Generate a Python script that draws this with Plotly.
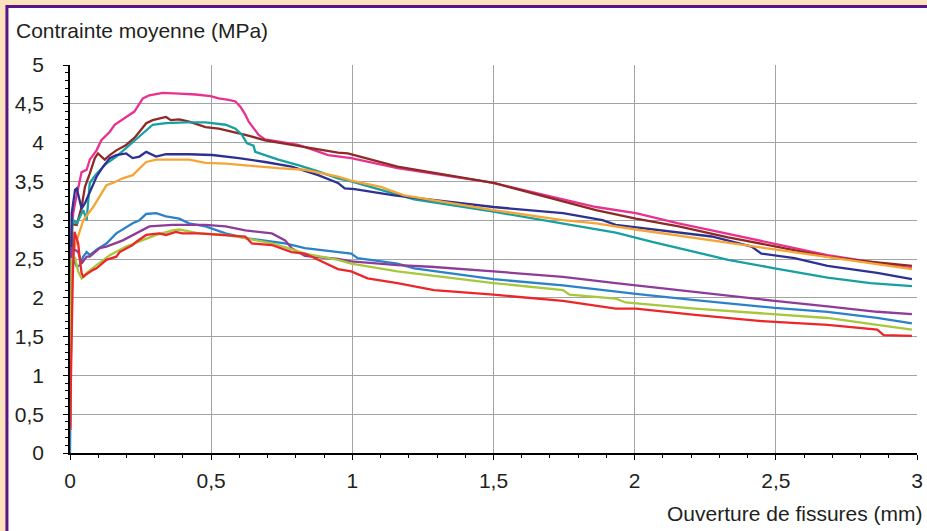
import plotly.graph_objects as go

# ---------------- data ----------------
pink_x = [0, 0.003, 0.006, 0.012, 0.018, 0.041, 0.059, 0.070, 0.094, 0.111, 0.141, 0.158, 0.176, 0.199, 0.228,
          0.246, 0.258, 0.281, 0.328, 0.387, 0.445, 0.498, 0.527, 0.562, 0.586, 0.604, 0.621, 0.633, 0.650, 0.668,
          0.691, 0.738, 0.808, 0.867, 0.914, 0.996, 1.160, 1.500, 1.863, 2.004, 2.155, 2.273, 2.496, 2.683, 2.823, 2.982]
pink_y = [0.3, 1.8, 2.9, 3.1, 3.22, 3.62, 3.65, 3.78, 3.90, 4.03, 4.14, 4.23, 4.27, 4.33, 4.40,
          4.51, 4.57, 4.61, 4.64, 4.63, 4.62, 4.60, 4.57, 4.55, 4.53, 4.46, 4.36, 4.27, 4.18, 4.10,
          4.04, 4.01, 3.97, 3.90, 3.84, 3.80, 3.67, 3.48, 3.17, 3.09, 2.96, 2.87, 2.70, 2.55, 2.47, 2.38]

brown_x = [0, 0.004, 0.008, 0.024, 0.041, 0.053, 0.070, 0.088, 0.099, 0.111, 0.123, 0.141, 0.164, 0.199, 0.228,
           0.246, 0.270, 0.293, 0.322, 0.340, 0.357, 0.387, 0.422, 0.457, 0.480, 0.527, 0.574, 0.621, 0.691, 0.785,
           0.855, 0.949, 0.984, 1.160, 1.500, 1.863, 2.004, 2.156, 2.331, 2.496, 2.683, 2.824, 2.982]
brown_y = [0.5, 2.5, 2.95, 2.94, 3.17, 3.43, 3.60, 3.80, 3.86, 3.82, 3.78, 3.84, 3.90, 3.97, 4.06,
           4.14, 4.25, 4.29, 4.31, 4.33, 4.29, 4.30, 4.27, 4.23, 4.20, 4.18, 4.14, 4.10, 4.03, 3.97,
           3.93, 3.87, 3.86, 3.69, 3.48, 3.13, 3.02, 2.92, 2.78, 2.66, 2.53, 2.47, 2.41]

teal_x = [0, 0.004, 0.008, 0.012, 0.024, 0.047, 0.059, 0.064, 0.070, 0.094, 0.129, 0.164, 0.211, 0.246, 0.270,
          0.293, 0.340, 0.410, 0.480, 0.551, 0.586, 0.609, 0.627, 0.650, 0.656, 0.691, 0.738, 0.808, 0.879, 0.949,
          0.996, 1.101, 1.219, 1.500, 1.746, 1.933, 2.062, 2.214, 2.331, 2.496, 2.683, 2.835, 2.982]
teal_y = [0.3, 2.4, 2.95, 3.00, 2.96, 3.13, 3.00, 3.26, 3.48, 3.60, 3.73, 3.82, 3.97, 4.08, 4.16,
          4.23, 4.25, 4.26, 4.26, 4.23, 4.18, 4.10, 3.99, 3.96, 3.88, 3.84, 3.78, 3.71, 3.63, 3.54,
          3.50, 3.39, 3.27, 3.11, 2.96, 2.84, 2.72, 2.59, 2.49, 2.38, 2.26, 2.19, 2.15]

navy_x = [0, 0.003, 0.006, 0.018, 0.024, 0.035, 0.041, 0.053, 0.070, 0.094, 0.117, 0.141, 0.164, 0.199, 0.222,
          0.246, 0.270, 0.305, 0.340, 0.422, 0.504, 0.598, 0.691, 0.785, 0.879, 0.949, 0.973, 1.008, 1.148, 1.500,
          1.746, 1.886, 1.933, 2.097, 2.273, 2.414, 2.449, 2.566, 2.683, 2.859, 2.953, 2.982]
navy_y = [0.3, 2.5, 3.09, 3.39, 3.41, 3.24, 3.15, 3.22, 3.37, 3.56, 3.69, 3.80, 3.84, 3.86, 3.80,
          3.82, 3.88, 3.82, 3.85, 3.85, 3.84, 3.80, 3.75, 3.69, 3.58, 3.48, 3.41, 3.40, 3.32, 3.17,
          3.09, 3.00, 2.94, 2.87, 2.79, 2.66, 2.57, 2.51, 2.41, 2.32, 2.26, 2.24]

orange_x = [0, 0.004, 0.012, 0.024, 0.047, 0.082, 0.129, 0.152, 0.187, 0.222, 0.246, 0.270, 0.305, 0.363, 0.422,
            0.480, 0.551, 0.644, 0.738, 0.832, 0.902, 0.949, 0.996, 1.101, 1.183, 1.500, 1.746, 1.863, 2.004, 2.214,
            2.425, 2.566, 2.742, 2.982]
orange_y = [0.3, 2.2, 2.6, 2.74, 3.00, 3.17, 3.45, 3.48, 3.54, 3.58, 3.67, 3.75, 3.78, 3.78, 3.78,
            3.74, 3.73, 3.70, 3.67, 3.65, 3.60, 3.56, 3.51, 3.43, 3.32, 3.13, 3.00, 2.96, 2.88, 2.77,
            2.66, 2.58, 2.49, 2.37]

blue_x = [0, 0.003, 0.006, 0.012, 0.024, 0.035, 0.047, 0.059, 0.070, 0.094, 0.129, 0.164, 0.222, 0.246, 0.270,
          0.305, 0.340, 0.387, 0.422, 0.480, 0.551, 0.621, 0.715, 0.762, 0.832, 0.949, 0.996, 1.019, 1.160, 1.219,
          1.500, 1.746, 1.933, 2.004, 2.214, 2.496, 2.683, 2.859, 2.982]
blue_y = [0, 1.5, 2.4, 2.49, 2.40, 2.42, 2.53, 2.59, 2.55, 2.62, 2.70, 2.83, 2.96, 3.00, 3.08,
          3.09, 3.05, 3.02, 2.96, 2.92, 2.83, 2.77, 2.72, 2.70, 2.64, 2.59, 2.57, 2.51, 2.44, 2.38,
          2.24, 2.16, 2.08, 2.05, 1.97, 1.87, 1.82, 1.74, 1.67]

purple_x = [0, 0.003, 0.006, 0.029, 0.041, 0.059, 0.070, 0.105, 0.129, 0.187, 0.246, 0.281, 0.363, 0.480, 0.551,
            0.621, 0.715, 0.762, 0.785, 0.832, 0.949, 0.996, 1.160, 1.277, 1.500, 1.746, 1.933, 2.004, 2.214, 2.496,
            2.683, 2.859, 2.982]
purple_y = [0.3, 2.0, 2.65, 2.59, 2.44, 2.53, 2.53, 2.64, 2.66, 2.74, 2.85, 2.92, 2.94, 2.94, 2.92,
            2.87, 2.83, 2.74, 2.64, 2.54, 2.50, 2.47, 2.42, 2.40, 2.34, 2.27, 2.19, 2.16, 2.08, 1.96,
            1.89, 1.82, 1.79]

green_x = [0, 0.003, 0.006, 0.018, 0.029, 0.041, 0.059, 0.094, 0.141, 0.199, 0.258, 0.305, 0.363, 0.387, 0.457,
           0.551, 0.621, 0.715, 0.773, 0.832, 0.949, 0.996, 1.160, 1.500, 1.746, 1.769, 1.933, 1.968, 2.214, 2.496,
           2.683, 2.859, 2.982]
green_y = [0.3, 1.8, 2.5, 2.51, 2.34, 2.25, 2.32, 2.42, 2.55, 2.66, 2.74, 2.81, 2.87, 2.88, 2.83,
           2.81, 2.77, 2.70, 2.64, 2.57, 2.49, 2.44, 2.34, 2.19, 2.10, 2.04, 1.99, 1.94, 1.86, 1.79,
           1.74, 1.65, 1.59]

red_x = [0, 0.005, 0.010, 0.016, 0.029, 0.035, 0.041, 0.047, 0.053, 0.082, 0.094, 0.129, 0.164, 0.176, 0.222,
         0.234, 0.270, 0.316, 0.340, 0.375, 0.398, 0.457, 0.551, 0.621, 0.644, 0.715, 0.785, 0.832, 0.890, 0.949,
         0.996, 1.054, 1.160, 1.289, 1.500, 1.746, 1.933, 2.004, 2.214, 2.449, 2.683, 2.859, 2.882, 2.982]
red_y = [0.3, 1.2, 2.3, 2.85, 2.70, 2.49, 2.32, 2.27, 2.29, 2.36, 2.38, 2.49, 2.53, 2.59, 2.68,
         2.72, 2.81, 2.83, 2.81, 2.85, 2.83, 2.83, 2.81, 2.79, 2.70, 2.68, 2.59, 2.57, 2.47, 2.37,
         2.34, 2.25, 2.19, 2.10, 2.04, 1.96, 1.86, 1.86, 1.78, 1.70, 1.65, 1.59, 1.52, 1.51]

x_ticks = [0, 0.5, 1, 1.5, 2, 2.5, 3]
x_labels = ["0", "0,5", "1", "1,5", "2", "2,5", "3"]
y_ticks = [0, 0.5, 1, 1.5, 2, 2.5, 3, 3.5, 4, 4.5, 5]
y_labels = ["0", "0,5", "1", "1,5", "2", "2,5", "3", "3,5", "4", "4,5", "5"]

y_title = "Contrainte moyenne (MPa)"
x_title = "Ouverture de fissures (mm)"

series = [
    (pink_x, pink_y, "#E9318F"),
    (brown_x, brown_y, "#8E2A26"),
    (teal_x, teal_y, "#17A0A2"),
    (navy_x, navy_y, "#2E3192"),
    (orange_x, orange_y, "#F6A535"),
    (blue_x, blue_y, "#2B82C8"),
    (purple_x, purple_y, "#8E3C99"),
    (green_x, green_y, "#A8C83C"),
    (red_x, red_y, "#EC2629"),
]

# ---------------- layout ----------------
W, H = 927, 531
L, R, T, B = 70, 4, 65, 78
PW, PH = W - L - R, H - T - B


def px_x(p):
    return (p - L) / PW


def px_y(p):
    return (H - B - p) / PH


FONT = "Liberation Sans, Arial, Helvetica, sans-serif"
TXT = "#231F20"

fig = go.Figure()
for xs, ys, col in series:
    fig.add_trace(go.Scatter(x=xs, y=ys, mode="lines",
                             line=dict(color=col, width=2.3), showlegend=False,
                             hoverinfo="skip"))

axis_common = dict(
    showgrid=True, gridcolor="#A3A3A3", gridwidth=1,
    showline=True, linecolor="black", linewidth=1.5,
    ticks="outside", ticklen=5, tickwidth=1.2, tickcolor="black",
    zeroline=False, fixedrange=True,
    tickfont=dict(family=FONT, size=21, color=TXT),
    tickmode="array", ticklabeloverflow="allow",
    minor=dict(tickmode="linear", tick0=0, dtick=0.1, ticks="outside",
               ticklen=3, tickwidth=1, tickcolor="black", showgrid=False),
)

fig.update_layout(
    width=W, height=H,
    margin=dict(l=L, r=R, t=T, b=B, pad=0),
    paper_bgcolor="#FDE2BE",
    plot_bgcolor="white",
    font=dict(family=FONT, size=21, color=TXT),
    xaxis=dict(range=[0, 3], tickvals=x_ticks, ticktext=x_labels,
               ticklabelstandoff=3, **axis_common),
    yaxis=dict(range=[0, 5], tickvals=y_ticks, ticktext=y_labels,
               ticklabelstandoff=15, **axis_common),
    shapes=[dict(type="rect", xref="paper", yref="paper", layer="below",
                 x0=px_x(6.5), x1=px_x(W + 30), y0=px_y(H + 30), y1=px_y(6.5),
                 line=dict(color="#5B1487", width=3), fillcolor="white")],
    annotations=[
        dict(text=y_title, xref="paper", yref="paper", x=px_x(14), y=px_y(30),
             xanchor="left", yanchor="middle", showarrow=False,
             font=dict(family=FONT, size=21, color=TXT)),
        dict(text=x_title, xref="paper", yref="paper", x=px_x(931), y=px_y(513),
             xanchor="right", yanchor="middle", showarrow=False,
             font=dict(family=FONT, size=21, color=TXT)),
    ],
)

fig.write_html("out.html")
